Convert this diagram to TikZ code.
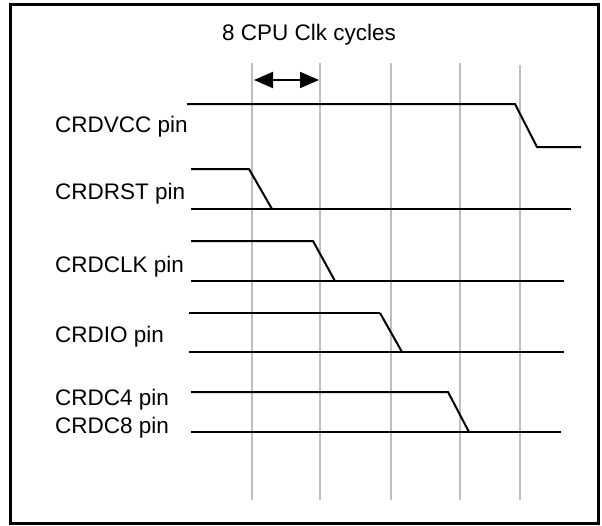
\documentclass[tikz,border=0pt]{standalone}
\usepackage{fontspec}
\setmainfont{Liberation Sans}
\usetikzlibrary{arrows.meta}
\definecolor{gridgray}{RGB}{190,190,190}
\begin{document}
\begin{tikzpicture}[x=1pt,y=-1pt,
  lbl/.style={font=\fontsize{22.5}{26}\selectfont, inner sep=0pt, anchor=base west},
  sig/.style={line width=2pt, line join=miter},
  gridln/.style={gridgray, line width=1.6pt},
  frame/.style={line width=3pt}]
\useasboundingbox (0,0) rectangle (602,525);
% frame
\draw[frame] (10,4) rectangle (598,523);
% grid lines
\foreach \gx/\gt in {252/63,320/63,391/63,460/63,520/65}
  \draw[gridln] (\gx,\gt) -- (\gx,500);
% title
\node[lbl, anchor=base] (title) at (309,40) {8 CPU Clk cycles};
% double arrow
\coordinate (aL) at (254,80);
\coordinate (aR) at (319,80);
\draw[line width=2pt, {Triangle[length=19pt,width=16pt]}-{Triangle[length=19pt,width=16pt]}] (aL) -- (aR);
% labels
\node[lbl] (vcc) at (55,132) {CRDVCC pin};
\node[lbl] (rst) at (55,199) {CRDRST pin};
\node[lbl] (clk) at (55,272) {CRDCLK pin};
\node[lbl] (io)  at (55,342) {CRDIO pin};
\node[lbl] (c4)  at (55,405) {CRDC4 pin};
\node[lbl] (c8)  at (55,433) {CRDC8 pin};
% waveforms
\draw[sig] (187,104) -- (515,104) -- (537,147) -- (581,147);
\draw[sig] (191,169) -- (249,169) -- (272,209);
\draw[sig] (191,209) -- (571,209);
\draw[sig] (191,241) -- (313,241) -- (335,281);
\draw[sig] (191,281) -- (564,281);
\draw[line width=1.5pt] (189,313) -- (380,313);
\draw[sig] (380,313) -- (402,352);
\draw[sig] (189,352) -- (564,352);
\draw[sig] (191,392) -- (448,392) -- (469,432);
\draw[sig] (191,432) -- (561,432);
\end{tikzpicture}
\end{document}
